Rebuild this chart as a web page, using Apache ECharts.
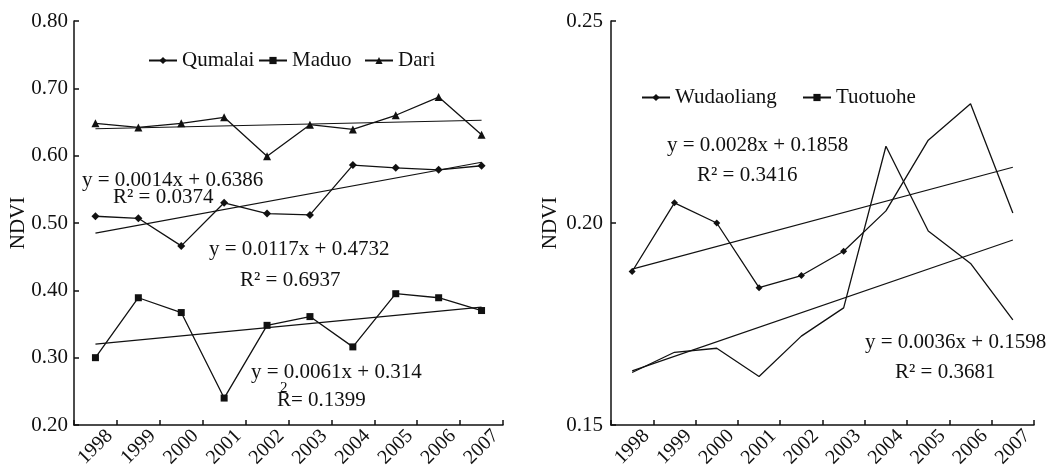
<!DOCTYPE html>
<html><head><meta charset="utf-8">
<script src="https://cdn.jsdelivr.net/npm/echarts@6/dist/echarts.min.js"></script>
<style>html,body{margin:0;padding:0;background:#fff}#c{width:1058px;height:474px}</style>
</head><body><div id="c"></div>
<script>
// ---- data ----
const years = ['1998','1999','2000','2001','2002','2003','2004','2005','2006','2007'];
const qumalai = [0.510,0.507,0.466,0.530,0.514,0.512,0.586,0.582,0.579,0.585];
const maduo   = [0.300,0.389,0.367,0.240,0.348,0.361,0.316,0.395,0.389,0.370];
const dari    = [0.648,0.642,0.648,0.657,0.599,0.646,0.639,0.660,0.687,0.631];
const wudaoliang = [0.188,0.205,0.200,0.184,0.187,0.193,0.203,0.2205,0.2295,0.2025];
const tuotuohe   = [0.163,0.168,0.169,0.162,0.172,0.179,0.219,0.198,0.190,0.176];
// trend lines: values at first and last year
const trendDari       = [0.6400, 0.6526];
const trendQumalai    = [0.4849, 0.5902];
const trendMaduo      = [0.3201, 0.3750];
const trendWudaoliang = [0.1886, 0.2138];
const trendTuotuohe   = [0.1634, 0.1958];
const leftAxis  = {min:0.20, max:0.80, interval:0.10};
const rightAxis = {min:0.15, max:0.25, interval:0.05};
const eqTexts = {
  dari:  ['y = 0.0014x + 0.6386', 'R² = 0.0374'],
  qum:   ['y = 0.0117x + 0.4732', 'R² = 0.6937'],
  mad:   ['y = 0.0061x + 0.314', 'R', '= 0.1399', '2'],
  wud:   ['y = 0.0028x + 0.1858', 'R² = 0.3416'],
  tuo:   ['y = 0.0036x + 0.1598', 'R² = 0.3681']
};
const wudMarkedPoints = 6;

// ---- chart ----
const FONT = 'Liberation Serif';
const INK = '#111';
const chart = echarts.init(document.getElementById('c'), null, {renderer:'canvas'});
function trendData(t){ return [[years[0], t[0]], [years[years.length-1], t[1]]]; }
function xAx(gi){
  return {type:'category', gridIndex:gi, data:years, boundaryGap:true,
    axisLine:{show:true, lineStyle:{color:INK, width:1.5}},
    axisTick:{show:true, inside:true, length:5, lineStyle:{color:INK, width:1.5}},
    axisLabel:{rotate:45, margin:22, align:'center', verticalAlign:'middle', fontFamily:FONT, fontSize:20, color:INK},
    splitLine:{show:false}};
}
function yAx(gi, a, gap, margin){
  return {type:'value', gridIndex:gi, min:a.min, max:a.max, interval:a.interval,
    name:'NDVI', nameLocation:'middle', nameGap:gap, nameRotate:90, nameMoveOverlap:false,
    nameTextStyle:{fontFamily:FONT, fontSize:21, color:INK},
    axisLine:{show:true, lineStyle:{color:INK, width:1.5}},
    axisTick:{show:true, inside:true, length:5, lineStyle:{color:INK, width:1.5}},
    axisLabel:{margin:margin, fontFamily:FONT, fontSize:21, color:INK, formatter:v=>v.toFixed(2)},
    splitLine:{show:false}};
}
function dataLine(name, data, gi, symbol, size){
  return {name, type:'line', xAxisIndex:gi, yAxisIndex:gi, data, symbol, symbolSize:size,
    lineStyle:{color:INK, width:1.3}, itemStyle:{color:INK}, z:3};
}
function trendLine(data, gi){
  return {type:'line', xAxisIndex:gi, yAxisIndex:gi, data:trendData(data), symbol:'none',
    lineStyle:{color:INK, width:1.2}, silent:true, z:2};
}
function legendItem(name, left, top){
  return {data:[name], left, top, padding:0, itemWidth:28, itemHeight:9, itemGap:0,
    textStyle:{fontFamily:FONT, fontSize:21, color:INK}, selectedMode:false};
}
function txt(text, x, y, size){
  return {type:'text', x, y, style:{text, fontFamily:FONT, fontSize:size||21, fill:INK, textVerticalAlign:'middle'}, z:10};
}

const wudSeries = dataLine('Wudaoliang', wudaoliang, 1, 'diamond', (v,p)=> p.dataIndex < wudMarkedPoints ? 7 : 0);
const tuoSeries = dataLine('Tuotuohe', tuotuohe, 1, 'rect', 7);
tuoSeries.showSymbol = false;

chart.setOption({
  animation:false,
  backgroundColor:'#fff',
  grid:[{left:74, right:555, top:21, bottom:49}, {left:611, right:24, top:21, bottom:49}],
  xAxis:[xAx(0), xAx(1)],
  yAxis:[yAx(0, leftAxis, 45, 6), yAx(1, rightAxis, 50, 8)],
  legend:[
    legendItem('Qumalai', 148, 50),
    legendItem('Maduo', 258, 50),
    legendItem('Dari', 364, 50),
    legendItem('Wudaoliang', 641, 87),
    legendItem('Tuotuohe', 802, 87)
  ],
  series:[
    dataLine('Qumalai', qumalai, 0, 'diamond', 8),
    dataLine('Maduo', maduo, 0, 'rect', 7),
    dataLine('Dari', dari, 0, 'triangle', 8),
    trendLine(trendDari, 0), trendLine(trendQumalai, 0), trendLine(trendMaduo, 0),
    wudSeries, tuoSeries,
    trendLine(trendWudaoliang, 1), trendLine(trendTuotuohe, 1)
  ],
  graphic:[
    txt(eqTexts.dari[0], 82, 180), txt(eqTexts.dari[1], 113, 197),
    txt(eqTexts.qum[0], 209, 249), txt(eqTexts.qum[1], 240, 280),
    txt(eqTexts.mad[0], 251, 372), txt(eqTexts.mad[1], 277, 400), txt(eqTexts.mad[2], 291, 400), txt(eqTexts.mad[3], 280, 388, 15),
    txt(eqTexts.wud[0], 667, 145), txt(eqTexts.wud[1], 697, 175),
    txt(eqTexts.tuo[0], 865, 342), txt(eqTexts.tuo[1], 895, 372)
  ]
});
</script></body></html>
